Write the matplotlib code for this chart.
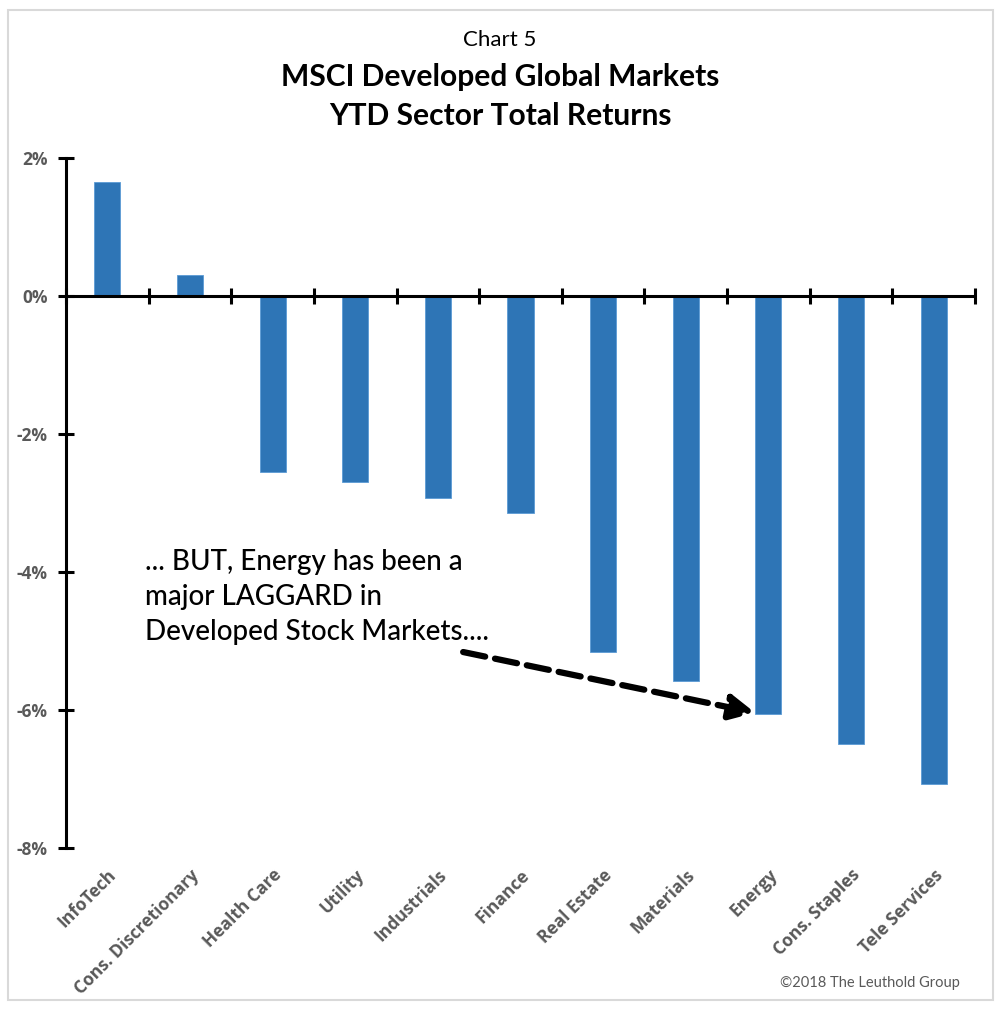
import matplotlib
matplotlib.use("Agg")
import matplotlib.pyplot as plt
from matplotlib.patches import Rectangle
import numpy as np

categories = ["InfoTech", "Cons. Discretionary", "Health Care", "Utility", "Industrials",
              "Finance", "Real Estate", "Materials", "Energy", "Cons. Staples", "Tele Services"]
returns = [1.65, 0.30, -2.55, -2.70, -2.93, -3.14, -5.16, -5.58, -6.06, -6.49, -7.07]
yticks = [-8, -6, -4, -2, 0, 2]
ytick_labels = ["-8%", "-6%", "-4%", "-2%", "0%", "2%"]

title_font = "Lato"
label_font = "Open Sans"
gray = "#595959"
bar_color = "#2E75B6"

fig = plt.figure(figsize=(10, 10.1), dpi=100)
ax = fig.add_axes([0.066, 0.1604, 0.909, 0.6832])

x = np.arange(len(categories))
ax.bar(x, returns, width=0.315, color=bar_color, edgecolor="#5B9BD5", linewidth=0.6, zorder=2)

ax.set_xlim(-0.5, len(categories) - 0.5)
ax.set_ylim(-8, 2)

for s in ["top", "right", "bottom"]:
    ax.spines[s].set_visible(False)
ax.spines["left"].set_linewidth(2.2)
ax.spines["left"].set_color("black")

ax.set_yticks(yticks)
ax.set_yticklabels(ytick_labels, fontfamily=label_font, fontweight="bold", fontsize=12.5, color=gray)
ax.tick_params(axis="y", direction="inout", length=12, width=2.2, color="black", pad=7)

ax.set_xticks(x)
ax.set_xticklabels(categories, rotation=45, ha="right", rotation_mode="anchor",
                   fontfamily=label_font, fontweight="bold", fontsize=12.5, color=gray)
ax.tick_params(axis="x", length=0, pad=13)

# zero line with boundary ticks
ax.axhline(0, color="black", linewidth=2.2, zorder=3)
zero_frac = (0 - (-8)) / (2 - (-8))
sec = ax.secondary_xaxis(zero_frac)
sec.set_xticks(np.arange(len(categories) + 1) - 0.5)
sec.set_xticklabels([])
sec.spines["bottom"].set_visible(False)
sec.tick_params(direction="inout", length=12, width=2.2, color="black")

# Titles
fig.text(0.5, 1 - 40 / 1010, "Chart 5", ha="center", va="center",
         fontfamily=title_font, fontsize=16, color="black")
fig.text(0.5, 1 - 77 / 1010, "MSCI Developed Global Markets", ha="center", va="center",
         fontfamily=title_font, fontweight="bold", fontsize=21.6, color="black")
fig.text(0.5, 1 - 116 / 1010, "YTD Sector Total Returns", ha="center", va="center",
         fontfamily=title_font, fontweight="bold", fontsize=21.6, color="black")

# Annotation
ax.text(0.456, -3.66, "... BUT, Energy has been a\nmajor LAGGARD in\nDeveloped Stock Markets....",
        ha="left", va="top", fontfamily=title_font, fontweight="medium", fontsize=20,
        color="black", linespacing=1.45)
ax.annotate("", xy=(7.84, -6.04), xytext=(4.306, -5.16),
            arrowprops=dict(arrowstyle="-|>,head_length=1.5,head_width=0.75", color="black",
                            linewidth=4.5, linestyle=(0, (3.6, 1.6)), shrinkA=0, shrinkB=0),
            zorder=5)

fig.text(0.96, 1 - 983 / 1010, "\u00a92018 The Leuthold Group", ha="right", va="center",
         fontfamily=title_font, fontsize=10.5, color=gray)

fig.patches.append(Rectangle((0.008, 0.01), 0.985, 0.98, transform=fig.transFigure,
                             fill=False, edgecolor="#d9d9d9", linewidth=1.5))

fig.savefig("out.png", dpi=100)
